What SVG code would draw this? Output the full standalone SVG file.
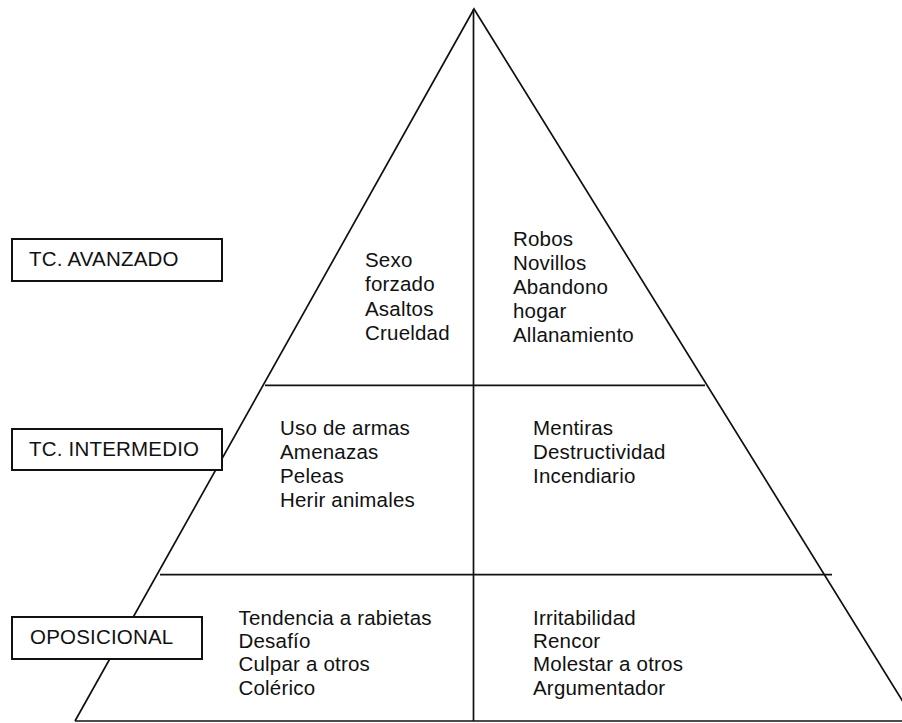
<svg xmlns="http://www.w3.org/2000/svg" width="902" height="723" viewBox="0 0 902 723">
<style>
.ln{stroke:#111;stroke-width:1.7;fill:none}
.bx{stroke:#111;stroke-width:2;fill:#fff}
text{font-family:"Liberation Sans",Arial,Helvetica,sans-serif;font-size:20.5px;letter-spacing:0.2px;fill:#111}
</style>
<rect width="902" height="723" fill="#fff"/>
<g id="connectors">
<polyline class="ln" points="75,721 474,9 915,721"/>
<line class="ln" x1="75" y1="721" x2="902" y2="721"/>
<line class="ln" x1="473.5" y1="9" x2="473.5" y2="721"/>
<line class="ln" x1="265" y1="385.3" x2="705" y2="385.3"/>
<line class="ln" x1="160" y1="574.7" x2="832" y2="574.7"/>
</g>
<g id="box-avanzado">
<rect class="bx" x="12" y="239" width="210" height="42"/>
<text x="29" y="266">TC. AVANZADO</text>
</g>
<g id="box-intermedio">
<rect class="bx" x="12" y="429" width="210" height="41"/>
<text x="29" y="456">TC. INTERMEDIO</text>
</g>
<g id="box-oposicional">
<rect class="bx" x="12" y="617" width="190" height="42"/>
<text x="30" y="644">OPOSICIONAL</text>
</g>
<g id="avanzado-left">
<text x="365" y="267">Sexo</text>
<text x="365" y="291">forzado</text>
<text x="365" y="315.5">Asaltos</text>
<text x="365" y="339.5">Crueldad</text>
</g>
<g id="avanzado-right">
<text x="513" y="246">Robos</text>
<text x="513" y="270">Novillos</text>
<text x="513" y="294">Abandono</text>
<text x="513" y="317.5">hogar</text>
<text x="513" y="341.5">Allanamiento</text>
</g>
<g id="intermedio-left">
<text x="280" y="434.5">Uso de armas</text>
<text x="280" y="458.5">Amenazas</text>
<text x="280" y="482.5">Peleas</text>
<text x="280" y="506.5">Herir animales</text>
</g>
<g id="intermedio-right">
<text x="533" y="434.5">Mentiras</text>
<text x="533" y="458.5">Destructividad</text>
<text x="533" y="482.5">Incendiario</text>
</g>
<g id="oposicional-left">
<text x="238.5" y="624.5">Tendencia a rabietas</text>
<text x="238.5" y="648">Desafío</text>
<text x="238.5" y="671">Culpar a otros</text>
<text x="238.5" y="694.5">Colérico</text>
</g>
<g id="oposicional-right">
<text x="533" y="624.5">Irritabilidad</text>
<text x="533" y="648">Rencor</text>
<text x="533" y="671">Molestar a otros</text>
<text x="533" y="694.5">Argumentador</text>
</g>
</svg>
